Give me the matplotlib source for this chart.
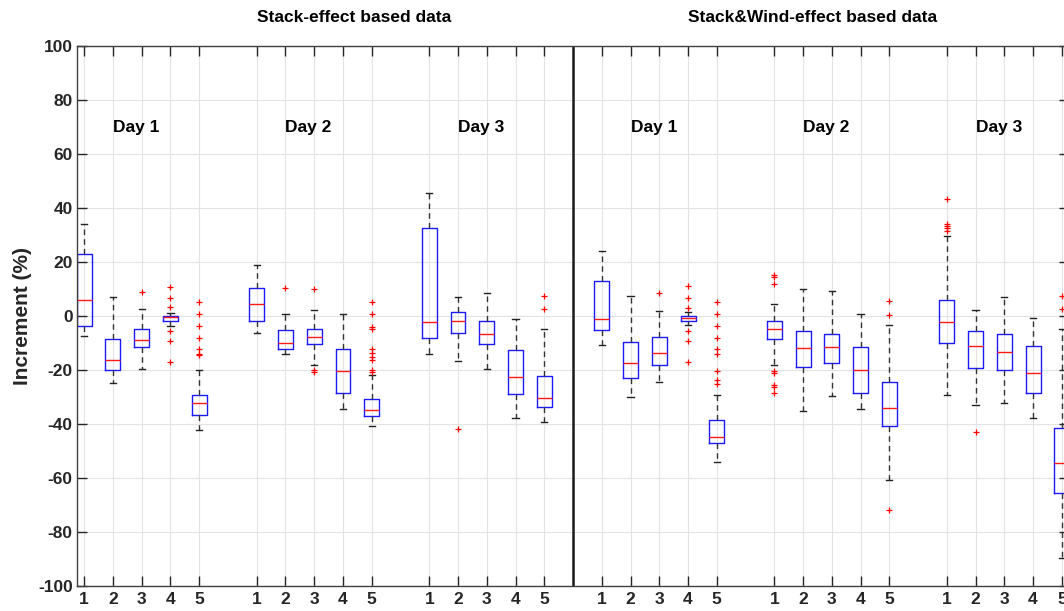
#boxplots of increment for stack and stack&wind data
import numpy as np
import matplotlib.pyplot as plt

#positions of the boxes (gap between days, divider at 18)
posStack = [1, 2, 3, 4, 5, 7, 8, 9, 10, 11, 13, 14, 15, 16, 17]
posWind = [19, 20, 21, 22, 23, 25, 26, 27, 28, 29, 31, 32, 33, 34, 35]

#stack-effect based data (whisker low, q1, median, q3, whisker high)
stackLo = [-7.3, -24.8, -19.6, -3.6, -42.2, -6.4, -14.2, -18.3, -34.4, -40.6, -14.0, -16.5, -19.6, -37.9, -39.3]
stackQ1 = [-3.7, -20.1, -11.4, -2.0, -36.5, -1.9, -12.2, -10.4, -28.6, -37.0, -8.1, -6.2, -10.5, -29.0, -33.8]
stackMed = [6.0, -16.3, -8.9, -0.4, -32.3, 4.3, -10.1, -7.9, -20.4, -34.8, -2.2, -1.9, -6.5, -22.7, -30.2]
stackQ3 = [23.1, -8.4, -4.8, 0.0, -29.3, 10.2, -5.3, -4.8, -12.3, -30.7, 32.5, 1.6, -1.7, -12.6, -22.2]
stackHi = [34.2, 7.1, 2.6, 1.2, -19.9, 19.0, 0.9, 2.3, 0.9, -21.9, 45.4, 7.2, 8.6, -1.0, -4.9]
stackOut = [[], [], [9.0], [10.9, 6.5, 3.2, -5.6, -9.3, -17.1],
            [5.3, 0.7, -3.6, -8.1, -12.3, -13.9, -14.4],
            [], [10.4], [10.0, -20.0, -20.9], [],
            [5.2, 0.6, -4.0, -4.7, -12.2, -13.8, -15.2, -16.3, -20.0, -20.9],
            [], [-41.9], [], [], [7.5, 2.7]]

#stack&wind-effect based data
windLo = [-10.9, -30.1, -24.6, -3.5, -54.1, -18.3, -35.1, -29.5, -34.6, -60.6, -29.4, -33.1, -32.3, -37.9, -89.6]
windQ1 = [-5.3, -22.8, -18.0, -2.0, -47.0, -8.4, -18.9, -17.3, -28.4, -40.9, -9.9, -19.3, -20.1, -28.4, -65.4]
windMed = [-1.2, -17.5, -13.6, -0.6, -44.9, -4.7, -12.0, -11.5, -20.0, -33.9, -2.1, -11.2, -13.3, -21.0, -54.3]
windQ3 = [12.8, -9.8, -7.9, 0.0, -38.6, -1.9, -5.7, -6.5, -11.6, -24.3, 6.1, -5.4, -6.5, -11.2, -41.5]
windHi = [24.2, 7.3, 2.0, 1.4, -29.1, 4.4, 10.0, 9.3, 0.9, -3.5, 29.6, 2.3, 7.0, -0.6, -4.9]
windOut = [[], [], [8.5], [11.2, 6.8, 3.1, -5.6, -9.1, -17.2],
           [5.2, 0.7, -3.6, -8.1, -12.3, -14.1, -20.2, -23.8, -25.1],
           [15.2, 14.3, 12.0, -20.2, -21.0, -25.6, -26.3, -28.6],
           [], [], [], [5.4, 0.5, -71.9],
           [43.2, 34.1, 33.3, 32.5, 31.6], [-43.1], [], [], [7.4, 2.6]]

dayLabels = ['Day 1', 'Day 2', 'Day 3', 'Day 1', 'Day 2', 'Day 3']
dayPos = [2, 8, 14, 20, 26, 32]
titles = ['Stack-effect based data', 'Stack&Wind-effect based data']
titlePos = [7, 22]
tickLabels = ['1', '2', '3', '4', '5']

plt.rcParams['font.family'] = ['Liberation Sans', 'DejaVu Sans']
plt.rcParams['font.weight'] = 'bold'
plt.rcParams['axes.unicode_minus'] = False

fig = plt.figure(figsize=(10.64, 6.11), dpi=100)
#axes runs a bit past the right edge like the original export
ax = fig.add_axes([0.0724, 0.0409, 0.9323, 0.8838])

stats = []
for lo, q1, med, q3, hi, fl in zip(stackLo + windLo, stackQ1 + windQ1, stackMed + windMed,
                                   stackQ3 + windQ3, stackHi + windHi, stackOut + windOut):
    stats.append({'whislo': lo, 'q1': q1, 'med': med, 'q3': q3, 'whishi': hi, 'fliers': fl})

ax.bxp(stats, positions=posStack + posWind, widths=0.52, capwidths=0.22,
       boxprops=dict(color='#1a1aff', lw=1.0),
       medianprops=dict(color='#ff1a1a', lw=1.0),
       whiskerprops=dict(color='#333333', lw=1.0, ls=(0, (4, 3))),
       capprops=dict(color='#222222', lw=1.0),
       flierprops=dict(marker='+', markeredgecolor='#ff0000', markersize=5, markeredgewidth=0.9),
       manage_ticks=False)

#divider between the two data sets
ax.axvline(18, color='#1a1a1a', lw=1.8)

ax.set_xlim(0.75, 35.25)
ax.set_ylim(-100, 100)
ax.set_yticks(np.arange(-100, 101, 20))
ax.set_xticks(posStack + posWind)
ax.set_xticklabels(tickLabels * 6)
ax.grid(True, color='#e3e3e3', lw=0.8)
ax.set_axisbelow(True)
ax.tick_params(direction='in', length=7, width=1.0, top=True, right=True,
               labelsize=12.5, colors='#262626', pad=4)
ax.tick_params(axis='y', pad=3)
for s in ax.spines.values():
    s.set_color('#404040')
    s.set_linewidth(1.0)

ax.set_ylabel('Increment (%)', fontsize=15, fontweight='bold', color='#262626')
ax.yaxis.set_label_coords(-0.045, 0.5)

for lab, p in zip(dayLabels, dayPos):
    ax.text(p, 70, lab, fontsize=12.5, fontweight='bold', color='black', ha='left', va='center')
for t, p in zip(titles, titlePos):
    ax.text(p, 110.5, t, fontsize=12.5, fontweight='bold', color='black', ha='left', va='center',
            clip_on=False)

fig.savefig('out.png', dpi=100)
